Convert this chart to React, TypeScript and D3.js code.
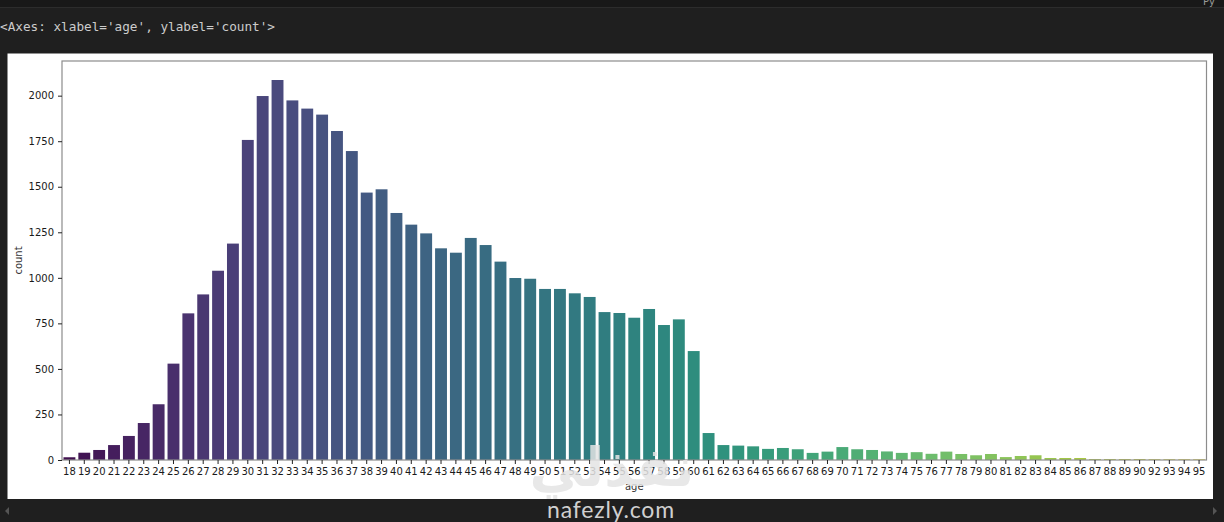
import { useEffect, useRef } from 'react'
import * as d3 from 'd3'

const ages = [
  '18', '19', '20', '21', '22', '23', '24', '25', '26', '27', '28', '29', '30', '31', '32', '33', '34', '35', '36', '37',
  '38', '39', '40', '41', '42', '43', '44', '45', '46', '47', '48', '49', '50', '51', '52', '53', '54', '55', '56', '57',
  '58', '59', '60', '61', '62', '63', '64', '65', '66', '67', '68', '69', '70', '71', '72', '73', '74', '75', '76', '77',
  '78', '79', '80', '81', '82', '83', '84', '85', '86', '87', '88', '89', '90', '92', '93', '94', '95',
]

const counts = [
  15, 40, 55, 82, 132, 203, 306, 529, 805, 909, 1039, 1188, 1757, 1998, 2086, 1974, 1929, 1896, 1806, 1696,
  1468, 1486, 1356, 1292, 1244, 1162, 1138, 1219, 1180, 1089, 999, 995, 939, 939, 915, 895, 812, 807, 781, 829,
  741, 772, 598, 148, 82, 79, 75, 61, 66, 59, 39, 46, 71, 59, 55, 47, 39, 43, 34, 46,
  33, 26, 33, 16, 22, 26, 11, 11, 11, 5, 5, 5, 5, 4, 4, 4, 4,
]

const yTicks = [0, 250, 500, 750, 1000, 1250, 1500, 1750, 2000]

const W = 1224
const H = 522
const FONT = 'DejaVu Sans, sans-serif'

// seaborn samples the colormap without its endpoints, then desaturates to 0.75
function barColor(i: number, n: number) {
  const c = d3.hsl(d3.interpolateViridis((i + 1) / (n + 1)))
  c.s *= 0.75
  return c.formatHex()
}

export default function App() {
  const svgRef = useRef<SVGSVGElement>(null)

  useEffect(() => {
    if (!svgRef.current) return
    const svg = d3.select(svgRef.current)
    svg.selectAll('*').remove()

    // notebook background
    svg.append('rect').attr('width', W).attr('height', H).attr('fill', '#1f1f1f')
    svg.append('rect').attr('width', W).attr('height', 7).attr('fill', '#181818')
    svg.append('line')
      .attr('x1', 0).attr('x2', W).attr('y1', 7.5).attr('y2', 7.5)
      .attr('stroke', '#2c2c2c')
    svg.append('text')
      .attr('x', 1203).attr('y', 5)
      .attr('fill', '#9a9a9a')
      .style('font-family', FONT)
      .style('font-size', '10px')
      .text('Py')

    svg.append('text')
      .attr('x', 0).attr('y', 31)
      .attr('fill', '#cccccc')
      .style('font-family', 'DejaVu Sans Mono, monospace')
      .style('font-size', '12.7px')
      .text("<Axes: xlabel='age', ylabel='count'>")

    // figure
    svg.append('rect')
      .attr('x', 7.5).attr('y', 53.5)
      .attr('width', 1205.5).attr('height', 445.5)
      .attr('fill', '#ffffff')

    const left = 62
    const right = 1206.5
    const top = 61
    const bottom = 460

    const x = d3.scaleBand<string>()
      .domain(ages)
      .range([left, right])
      .paddingInner(0.2)
      .paddingOuter(0.1)

    const y = d3.scaleLinear()
      .domain([0, d3.max(counts)! * 1.05])
      .range([bottom, top])

    svg.append('g')
      .selectAll('rect')
      .data(ages)
      .join('rect')
      .attr('x', d => x(d)!)
      .attr('width', x.bandwidth())
      .attr('y', (_, i) => y(counts[i]))
      .attr('height', (_, i) => bottom - y(counts[i]))
      .attr('fill', (_, i) => barColor(i, ages.length))

    // spines
    svg.append('rect')
      .attr('x', left).attr('y', top)
      .attr('width', right - left).attr('height', bottom - top)
      .attr('fill', 'none')
      .attr('stroke', '#8c8c8c')
      .attr('stroke-width', 1.2)

    svg.append('g')
      .attr('transform', `translate(0,${bottom})`)
      .call(d3.axisBottom(x).tickSize(4).tickPadding(3.5))
      .call(g => g.select('.domain').remove())
      .call(g => g.selectAll('.tick line').attr('stroke', '#222'))
      .call(g => g.selectAll('.tick text')
        .attr('fill', '#1a1a1a')
        .style('font-family', FONT)
        .style('font-size', '10px'))

    svg.append('g')
      .attr('transform', `translate(${left},0)`)
      .call(d3.axisLeft(y).tickValues(yTicks).tickFormat(d3.format('d')).tickSize(4).tickPadding(4))
      .call(g => g.select('.domain').remove())
      .call(g => g.selectAll('.tick line').attr('stroke', '#222'))
      .call(g => g.selectAll('.tick text')
        .attr('fill', '#1a1a1a')
        .style('font-family', FONT)
        .style('font-size', '10px'))

    svg.append('text')
      .attr('x', (left + right) / 2)
      .attr('y', 490)
      .attr('text-anchor', 'middle')
      .attr('fill', '#333')
      .style('font-family', FONT)
      .style('font-size', '10px')
      .text('age')

    svg.append('text')
      .attr('transform', `translate(22,${(top + bottom) / 2}) rotate(-90)`)
      .attr('text-anchor', 'middle')
      .attr('fill', '#333')
      .style('font-family', FONT)
      .style('font-size', '10px')
      .text('count')

    // watermark logo over the lower axis, as in the screenshot
    svg.append('text')
      .attr('x', 612).attr('y', 486)
      .attr('text-anchor', 'middle')
      .attr('fill', '#e4e4e4')
      .attr('opacity', 0.85)
      .style('font-family', 'DejaVu Sans, sans-serif')
      .style('font-weight', 'bold')
      .style('font-size', '54px')
      .text('نفذلي')

    svg.append('text')
      .attr('x', 611).attr('y', 518)
      .attr('text-anchor', 'middle')
      .attr('fill', '#d0d0d0')
      .style('font-family', 'Lato, sans-serif')
      .style('font-size', '23px')
      .style('letter-spacing', '0.8px')
      .text('nafezly.com')

    // scroll arrows
    svg.append('path').attr('d', 'M9,507 L5,511 L9,515 Z').attr('fill', '#555')
    svg.append('path').attr('d', 'M1213,507 L1217,511 L1213,515 Z').attr('fill', '#555')
  }, [])

  return (
    <div style={{ position: 'fixed', left: 0, top: 0, width: W, height: H }}>
      <svg ref={svgRef} width={W} height={H} style={{ display: 'block' }}></svg>
    </div>
  )
}
